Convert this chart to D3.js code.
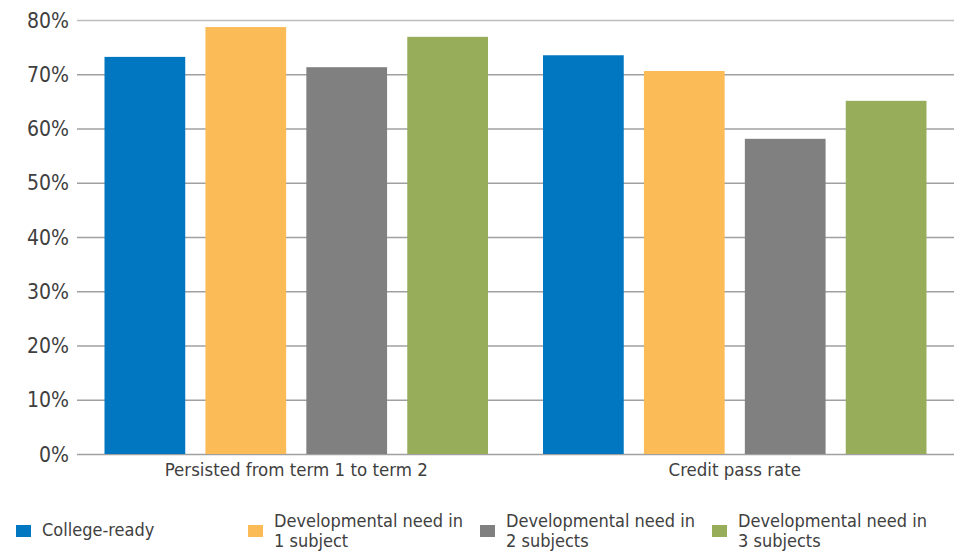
<!DOCTYPE html>
<html><head><meta charset="utf-8">
<script src="https://cdn.jsdelivr.net/npm/d3@7"></script>
<style>
html,body{margin:0;padding:0;background:#fff;}
svg{display:block;}
text{font-family:Tahoma,"DejaVu Sans Condensed","DejaVu Sans",sans-serif;fill:#404040;}
</style></head>
<body><svg id="c" width="970" height="552"></svg>
<script>
const categories = ["Persisted from term 1 to term 2", "Credit pass rate"];
const seriesNames = ["College-ready", "Developmental need in 1 subject", "Developmental need in 2 subjects", "Developmental need in 3 subjects"];
const legendLines = [["College-ready"], ["Developmental need in", "1 subject"], ["Developmental need in", "2 subjects"], ["Developmental need in", "3 subjects"]];
const collegeReady = [73.2, 73.5];
const devNeed1 = [78.7, 70.6];
const devNeed2 = [71.3, 58.1];
const devNeed3 = [76.9, 65.1];
const yTicks = [0, 10, 20, 30, 40, 50, 60, 70, 80];
const colors = ["#0077c0", "#fbbb57", "#808080", "#97ad5a"];

const seriesValues = [collegeReady, devNeed1, devNeed2, devNeed3];
const svg = d3.select("#c");
const plotLeft = 77, plotRight = 954, plotTop = 20, plotBottom = 454;

const y = d3.scaleLinear().domain([0, 80]).range([plotBottom, plotTop]);
const x0 = d3.scaleBand().domain(categories).range([plotLeft, plotRight]).padding(0);
const groupPad = 27.5;
const x1 = d3.scaleBand().domain(seriesNames).range([groupPad, x0.bandwidth() - groupPad]).paddingInner(0.2).paddingOuter(0);

// gridlines
svg.append("g").selectAll("line").data(yTicks).join("line")
  .attr("x1", plotLeft).attr("x2", plotRight)
  .attr("y1", d => y(d) + 0.5).attr("y2", d => y(d) + 0.5)
  .attr("stroke", d => d === 80 ? "#bdbdbd" : "#a0a0a0").attr("stroke-width", 1.5);

// y labels
svg.append("g").selectAll("text").data(yTicks).join("text")
  .attr("x", 69).attr("y", d => y(d)).attr("dy", "0.36em")
  .attr("text-anchor", "end").style("font-size", "21px")
  .text(d => d + "%");

// bars
const groups = svg.append("g").selectAll("g").data(categories).join("g")
  .attr("transform", d => `translate(${x0(d)},0)`);
groups.selectAll("rect").data((c, ci) => seriesNames.map((s, si) => ({s, si, v: seriesValues[si][ci]})))
  .join("rect")
  .attr("x", d => x1(d.s)).attr("width", x1.bandwidth())
  .attr("y", d => y(d.v)).attr("height", d => y(0) - y(d.v))
  .attr("fill", d => colors[d.si]);

// category labels
svg.append("g").selectAll("text").data(categories).join("text")
  .attr("x", d => x0(d) + x0.bandwidth() / 2).attr("y", 476)
  .attr("text-anchor", "middle").style("font-size", "18.5px")
  .text(d => d);

// legend
const legX = [16, 248, 480, 712];
const leg = svg.append("g").selectAll("g").data(seriesNames).join("g")
  .attr("transform", (d, i) => `translate(${legX[i]},0)`);
leg.append("rect").attr("x", 0).attr("y", 525).attr("width", 15).attr("height", 12)
  .attr("fill", (d, i) => colors[i]);
leg.each(function(d, i) {
  const g = d3.select(this);
  const lines = legendLines[i];
  const t = g.append("text").attr("x", 26).style("font-size", "18px");
  if (lines.length === 1) {
    t.attr("y", 536).text(lines[0]);
  } else {
    lines.forEach((l, k) => t.append("tspan").attr("x", 26).attr("y", 527 + k * 20).text(l));
  }
});
</script></body></html>
